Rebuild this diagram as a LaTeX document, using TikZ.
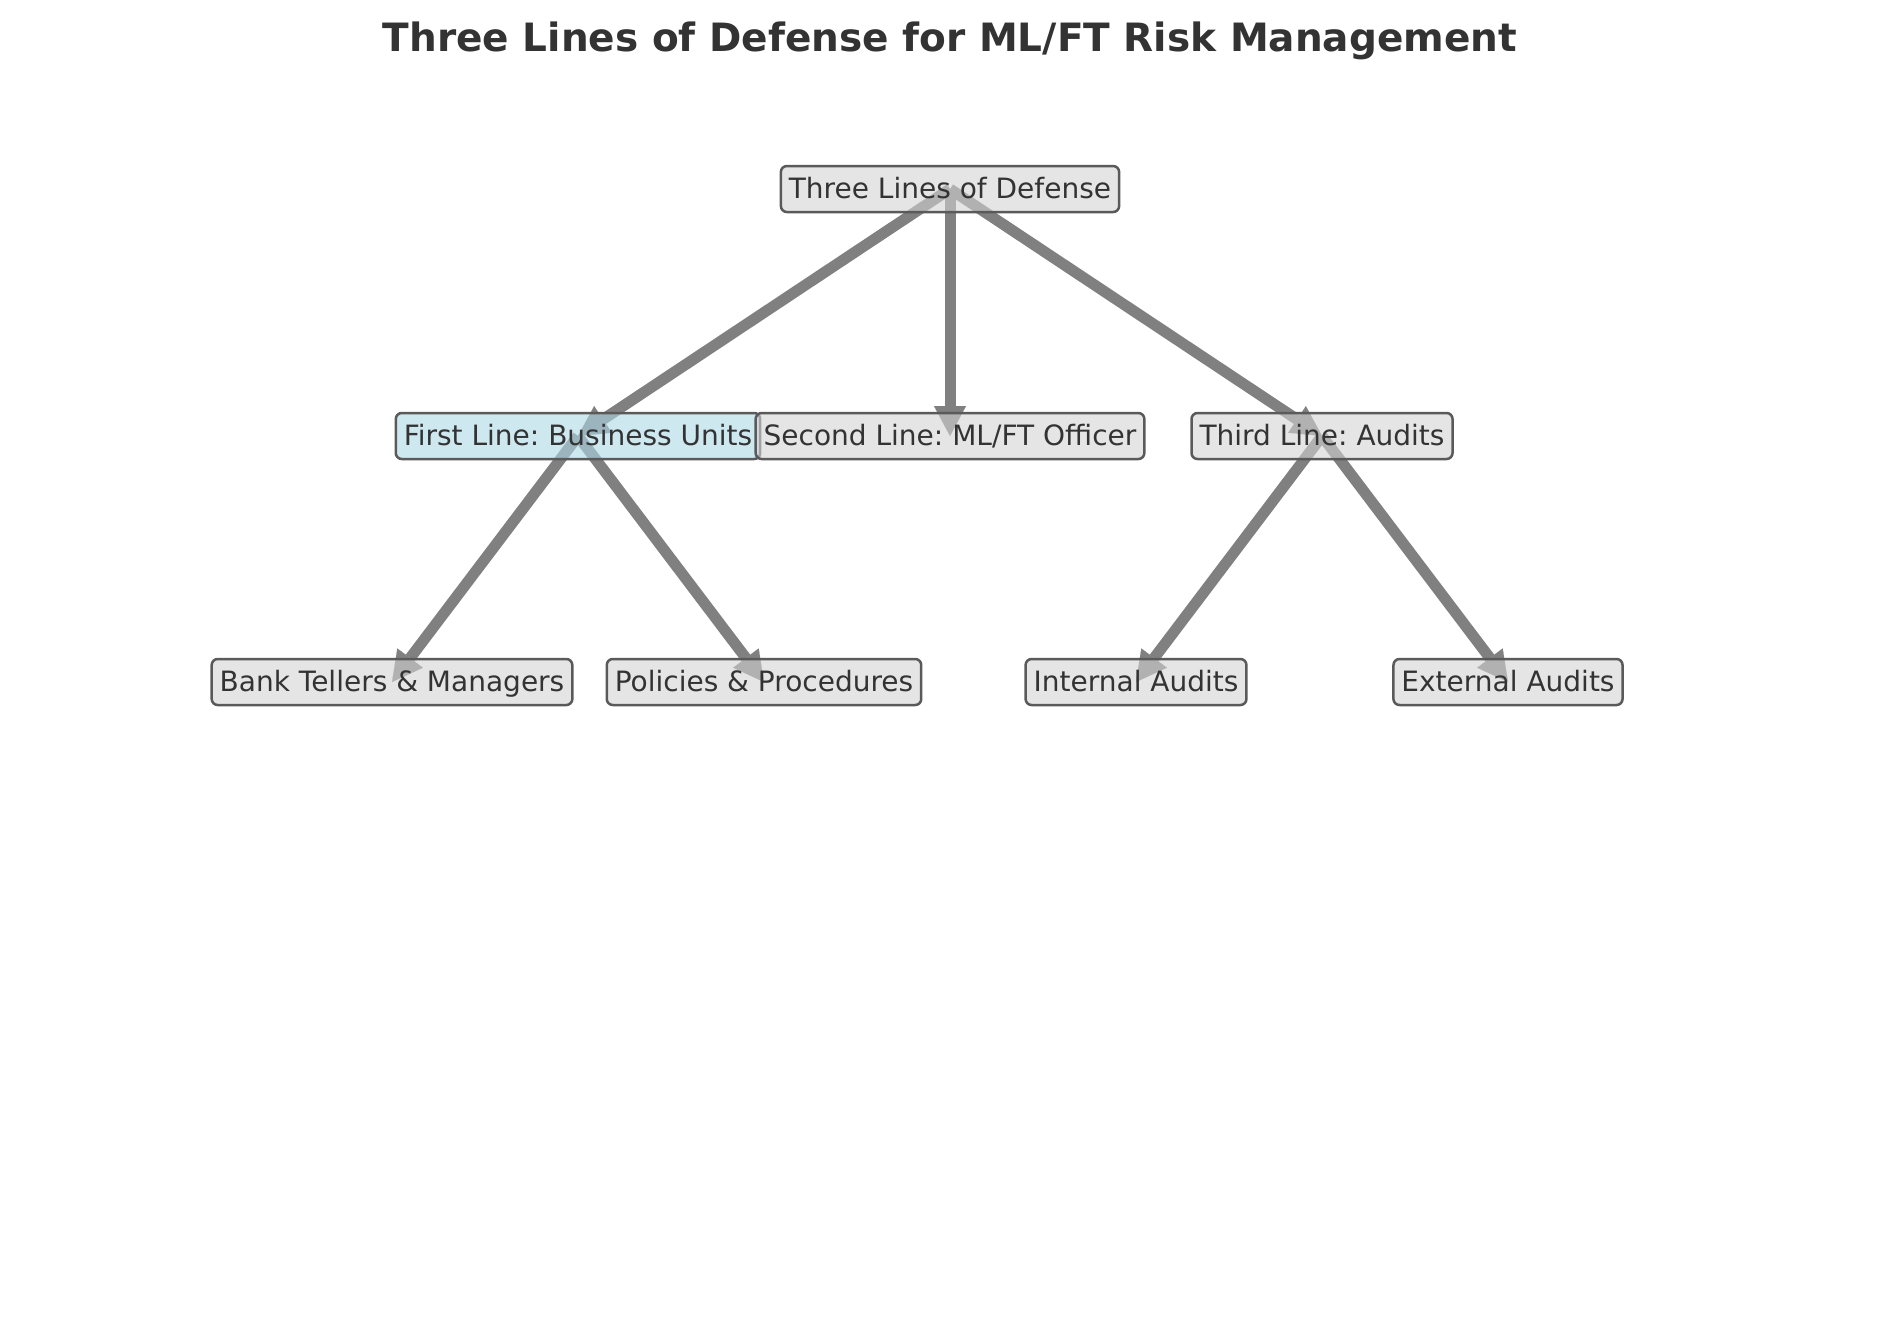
\documentclass[tikz,border=0pt]{standalone}
\usepackage{fontspec}
\setmainfont{DejaVu Sans}
\usetikzlibrary{arrows.meta}
\definecolor{txt}{HTML}{333333}
\definecolor{boxfill}{HTML}{D3D3D3}
\definecolor{bluefill}{HTML}{ADD8E6}
\definecolor{edgec}{HTML}{808080}
\definecolor{boxedge}{HTML}{5A5A5A}
\pgfdeclarelayer{bg}
\pgfsetlayers{bg,main}
\frenchspacing
\tikzset{
  box/.style={draw=boxedge, line width=2.5pt, fill=boxfill, fill opacity=0.6, text opacity=1,
    rounded corners=6pt, text=txt, font=\fontsize{28}{34}\selectfont,
    text height=23.5pt, text depth=5.5pt, inner xsep=8pt, inner ysep=8.5pt},
  bluebox/.style={box, fill=bluefill},
  link/.style={draw=edgec, line width=11pt, -{Triangle[length=30pt,width=32pt,line width=0.1pt]}},
  titlestyle/.style={text=txt, font=\fontsize{39}{47}\selectfont\bfseries, inner sep=0pt, anchor=base}
}
\begin{document}
\begin{tikzpicture}[x=1pt,y=-1pt]
\useasboundingbox (0,0) rectangle (1900,1318);
\node[titlestyle] (title) at (950,51) {Three Lines of Defense for ML/FT Risk Management};
\node[box] (top) at (950,189) {Three Lines of Defense};
\node[bluebox] (first) at (578,436) {First Line: Business Units};
\node[box] (second) at (950,436) {Second Line: ML/FT Officer};
\node[box] (third) at (1322,436) {Third Line: Audits};
\node[box] (bank) at (392,682) {Bank Tellers \& Managers};
\node[box] (policies) at (764,682) {Policies \& Procedures};
\node[box] (internal) at (1136,682) {Internal Audits};
\node[box] (external) at (1508,682) {External Audits};
\begin{pgfonlayer}{bg}
\draw[link] (top.center) -- (first.center);
\draw[link] (top.center) -- (second.center);
\draw[link] (top.center) -- (third.center);
\draw[link] (first.center) -- (bank.center);
\draw[link] (first.center) -- (policies.center);
\draw[link] (third.center) -- (internal.center);
\draw[link] (third.center) -- (external.center);
\end{pgfonlayer}
\end{tikzpicture}
\end{document}
